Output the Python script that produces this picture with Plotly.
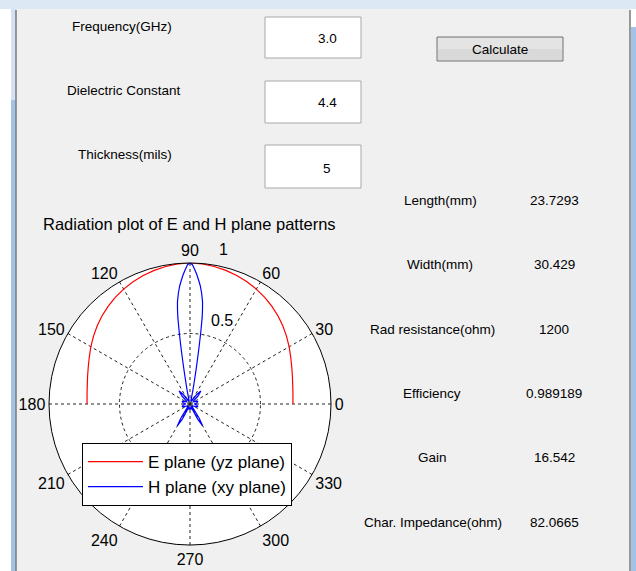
import plotly.graph_objects as go

# ---------------- data ----------------
e_theta = [0, 5, 10, 15, 20, 25, 30, 35, 40, 45, 50, 55, 60, 65, 70, 75, 80, 85, 90,
           95, 100, 105, 110, 115, 120, 125, 130, 135, 140, 145, 150, 155, 160, 165, 170, 175, 180]
e_r = [0.73, 0.733, 0.74, 0.752, 0.768, 0.788, 0.812, 0.836, 0.86, 0.883, 0.904, 0.924, 0.941,
       0.956, 0.970, 0.981, 0.990, 0.997, 1.0,
       0.997, 0.990, 0.981, 0.970, 0.956, 0.941, 0.924, 0.904, 0.883, 0.86, 0.836, 0.812,
       0.788, 0.768, 0.752, 0.74, 0.733, 0.73]

h_theta = [0, 10, 20, 30, 40, 45, 50, 55, 60, 65, 70, 73, 75, 77, 78, 79, 80, 80.5, 81, 81.5,
           82, 82.5, 83, 84, 85, 86, 87, 88, 89, 90,
           91, 92, 93, 94, 95, 96, 97, 97.5, 98, 98.5, 99, 99.5, 100, 101, 102, 103, 105, 107,
           110, 115, 120, 125, 130, 135, 140, 150, 160, 170,
           180, 190, 200, 210, 220, 230, 234, 237, 240, 243, 246, 250, 260, 270, 280, 290,
           294, 297, 300, 303, 306, 310, 320, 330, 340, 350, 360]
h_r = [0.03, 0.05, 0.06, 0.03, 0.03, 0.08, 0.12, 0.08, 0.03, 0.02, 0.04, 0.03, 0.02, 0.05,
       0.09, 0.15, 0.25, 0.32, 0.42, 0.52,
       0.62, 0.68, 0.73, 0.79, 0.84, 0.88, 0.92, 0.955, 0.988, 1.0,
       0.988, 0.955, 0.92, 0.88, 0.84, 0.79, 0.73, 0.68, 0.62, 0.52, 0.42, 0.32, 0.25, 0.15,
       0.09, 0.05, 0.02, 0.03,
       0.04, 0.02, 0.03, 0.08, 0.12, 0.08, 0.03, 0.03, 0.06, 0.05,
       0.03, 0.05, 0.06, 0.03, 0.02, 0.02, 0.04, 0.12, 0.18, 0.12, 0.04, 0.02, 0.04, 0.03,
       0.04, 0.02, 0.04, 0.12, 0.18, 0.12, 0.04, 0.02, 0.02, 0.03, 0.06, 0.05, 0.03]

angle_ticks = [0, 30, 60, 90, 120, 150, 180, 210, 240, 270, 300, 330]
ring_ticks = [0.5]

input_labels = ["Frequency(GHz)", "Dielectric Constant", "Thickness(mils)"]
input_values = ["3.0", "4.4", "5"]
output_labels = ["Length(mm)", "Width(mm)", "Rad resistance(ohm)", "Efficiency", "Gain",
                 "Char. Impedance(ohm)"]
output_values = ["23.7293", "30.429", "1200", "0.989189", "16.542", "82.0665"]

# ---------------- layout helpers ----------------
W, H = 636, 571
def px(x):
    return x / W
def py(y):
    return 1 - y / H

FONT = "Liberation Sans, Arial, sans-serif"

fig = go.Figure()
fig.add_trace(go.Scatterpolar(r=e_r, theta=e_theta, mode="lines", name="E plane (yz plane)",
                              line=dict(color="#ff0000", width=1.2)))
fig.add_trace(go.Scatterpolar(r=h_r, theta=h_theta, mode="lines", name="H plane (xy plane)",
                              line=dict(color="#0000ff", width=1.2)))

shapes = []
# window chrome
shapes.append(dict(type="rect", xref="paper", yref="paper", x0=0, x1=1, y0=py(9), y1=1,
                   fillcolor="#dde8f5", line_width=0, layer="below"))
shapes.append(dict(type="rect", xref="paper", yref="paper", x0=px(16), x1=px(630), y0=0, y1=py(9),
                   fillcolor="#f0f0f0", line_width=0, layer="below"))
shapes.append(dict(type="rect", xref="paper", yref="paper", x0=px(11), x1=px(16), y0=0, y1=py(100),
                   fillcolor="#a3c2e6", line_width=0, layer="below"))
shapes.append(dict(type="rect", xref="paper", yref="paper", x0=px(11), x1=px(16), y0=py(100), y1=py(9),
                   fillcolor="#d3e2f3", line_width=0, layer="below"))
shapes.append(dict(type="rect", xref="paper", yref="paper", x0=px(631), x1=1, y0=0, y1=py(27),
                   fillcolor="#a3c2e6", line_width=0, layer="below"))
shapes.append(dict(type="line", xref="paper", yref="paper", x0=px(16), x1=px(16), y0=0, y1=py(10),
                   line=dict(color="#7a7a7a", width=1.5)))
shapes.append(dict(type="line", xref="paper", yref="paper", x0=px(630), x1=px(630), y0=0, y1=py(10),
                   line=dict(color="#7a7a7a", width=1.5)))

# input edit boxes
box_tops = [17, 81, 145]
box_bots = [58, 123, 188]
for t, b in zip(box_tops, box_bots):
    shapes.append(dict(type="rect", xref="paper", yref="paper", x0=px(265), x1=px(361),
                       y0=py(b), y1=py(t), fillcolor="white", line=dict(color="#a8a8a8", width=1)))
# button
shapes.append(dict(type="rect", xref="paper", yref="paper", x0=px(437), x1=px(563),
                   y0=py(61), y1=py(37), fillcolor="#e4e4e4", line=dict(color="#707070", width=1)))
shapes.append(dict(type="rect", xref="paper", yref="paper", x0=px(438), x1=px(562),
                   y0=py(60), y1=py(49), fillcolor="#d9d9d9", line_width=0))


def label(x, y, text, size=13.5):
    return dict(x=px(x), y=py(y), xref="paper", yref="paper", text=text, showarrow=False,
                xanchor="center", yanchor="middle",
                font=dict(size=size, color="black", family=FONT))


annotations = []
label_y = [26, 90, 154]
value_y = [39, 103, 168]
label_x = [122, 124, 125]
for lab, val, lx, ly, vy in zip(input_labels, input_values, label_x, label_y, value_y):
    annotations.append(label(lx, ly, lab))
    annotations.append(label(327, vy, val))
annotations.append(label(500, 50, "Calculate"))

out_y = [201, 265, 329, 393, 457, 522]
out_x = [440, 440, 432, 432, 432, 433]
for lab, val, oy, ox in zip(output_labels, output_values, out_y, out_x):
    annotations.append(label(ox, oy, lab))
    annotations.append(label(554, oy, val))

annotations.append(label(189, 224, "Radiation plot of E and H plane patterns", 16.5))
annotations.append(label(222, 320, "0.5", 16))
annotations.append(label(224, 249, "1", 16))

fig.update_layout(
    width=W, height=H,
    margin=dict(l=0, r=0, t=0, b=0),
    paper_bgcolor="white",
    font=dict(family=FONT, color="black"),
    shapes=shapes,
    annotations=annotations,
    polar=dict(
        domain=dict(x=[px(49), px(331)], y=[py(545), py(263)]),
        bgcolor="white",
        angularaxis=dict(
            direction="counterclockwise", rotation=0,
            tickmode="array", tickvals=angle_ticks,
            ticktext=[str(a) for a in angle_ticks],
            ticks="", showline=True, linecolor="black", linewidth=1,
            showgrid=True, gridcolor="#222222", griddash="3px,3px", gridwidth=1,
            tickfont=dict(size=16, color="black", family=FONT),
        ),
        radialaxis=dict(
            range=[0, 1], tickmode="array", tickvals=ring_ticks,
            showticklabels=False, ticks="", showline=False,
            showgrid=True, gridcolor="#222222", griddash="3px,3px", gridwidth=1,
        ),
    ),
    legend=dict(
        x=px(82), y=py(443), xanchor="left", yanchor="top",
        bgcolor="white", bordercolor="black", borderwidth=1,
        font=dict(size=17, color="black", family=FONT),
        itemwidth=55,
    ),
)

fig.write_html("out.html", config={"displayModeBar": False})
with open("out.html", "r", encoding="utf-8") as f:
    html = f.read()
html = html.replace("<head>", "<head><style>html,body{margin:0;padding:0;overflow:hidden;}</style>", 1)
with open("out.html", "w", encoding="utf-8") as f:
    f.write(html)
